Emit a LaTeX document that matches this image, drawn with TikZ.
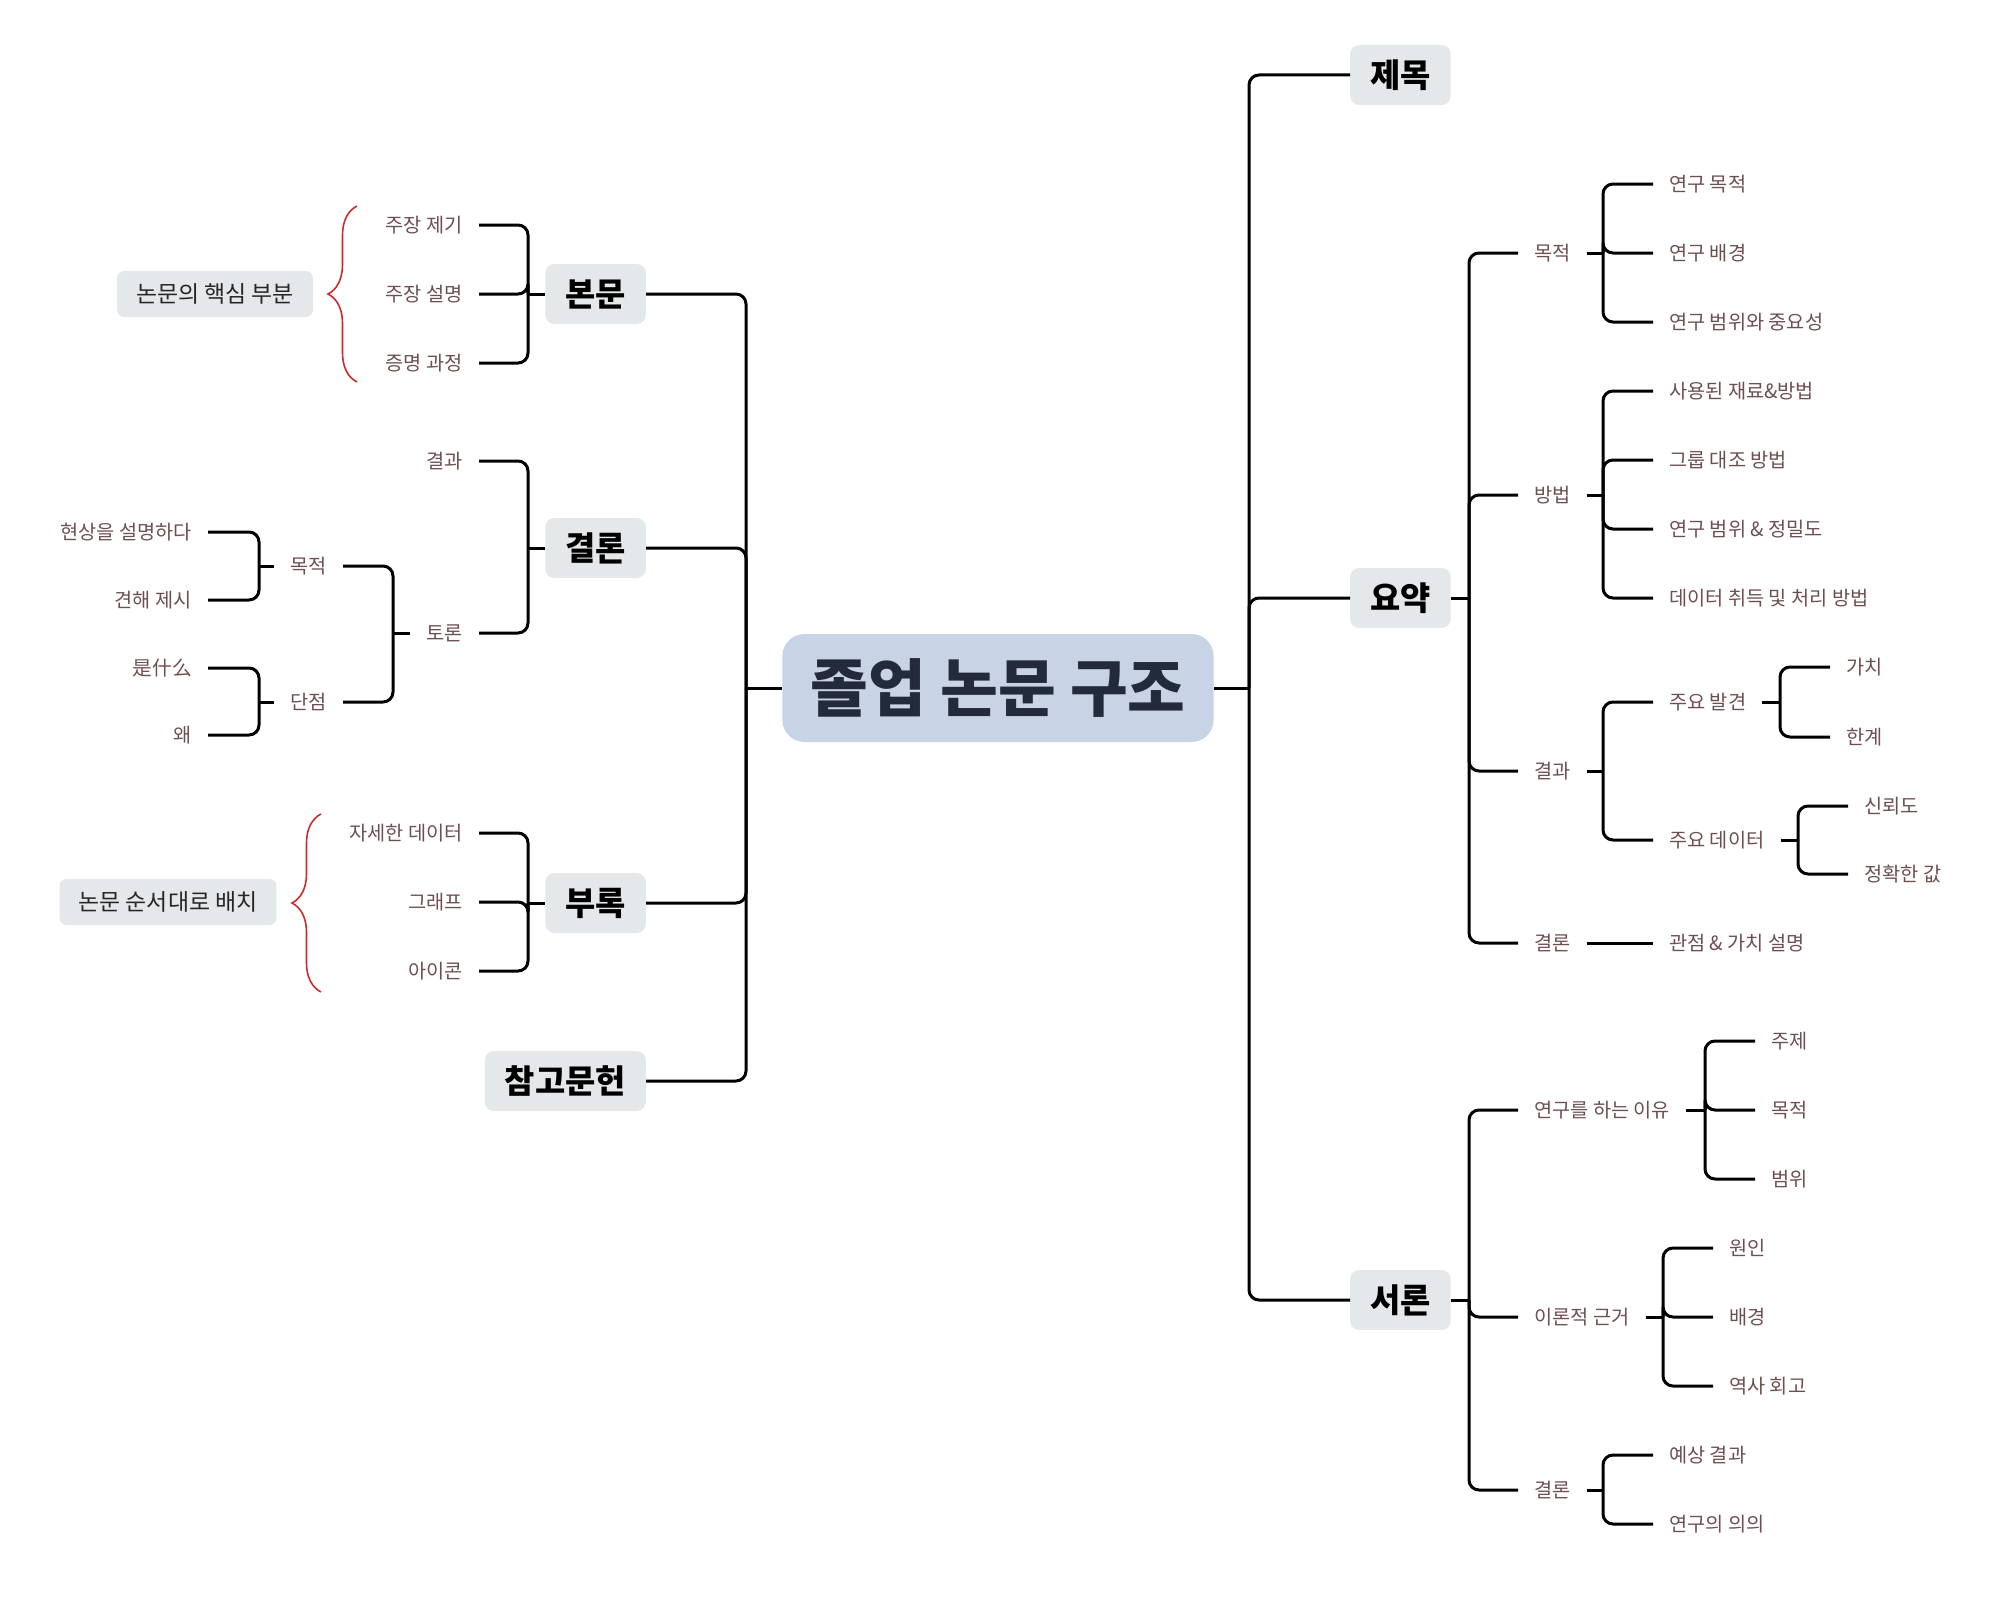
\documentclass[tikz,border=0pt]{standalone}
\usepackage{fontspec}
\setmainfont{Noto Sans CJK KR}
\usetikzlibrary{decorations.pathreplacing}
\definecolor{mainfill}{HTML}{C8D3E5}
\definecolor{maintext}{HTML}{222A3C}
\definecolor{topicfill}{HTML}{E5E8EB}
\definecolor{leaftext}{HTML}{6E4F4F}
\definecolor{bracered}{HTML}{CC2B2B}

\begin{document}
\begin{tikzpicture}[x=1bp, y=-1bp,
  main/.style={fill=mainfill, text=maintext, rounded corners=22bp, minimum height=108bp, inner xsep=28bp, font=\fontsize{63}{66}\selectfont\bfseries},
  topic/.style={fill=topicfill, rounded corners=9bp, minimum height=60bp, inner xsep=20bp, font=\fontsize{33}{35}\selectfont\bfseries},
  note/.style={fill=topicfill, rounded corners=7bp, minimum height=46bp, inner xsep=19bp, text=black!85, font=\fontsize{23}{26}\selectfont},
  leaf/.style={text=leaftext, inner xsep=16bp, inner ysep=3bp, font=\fontsize{19.8}{22}\selectfont},
  link/.style={line width=3bp, rounded corners=10bp},
  bracket/.style={draw=bracered, line width=1.6bp, decorate, decoration={brace, amplitude=29bp}}]
\useasboundingbox (0,0) rectangle (2003,1605);

\node[main] (main) at (998,688) {졸업 논문 구조};

\node[topic, anchor=west] (jemok) at (1350,75) {제목};
\node[topic, anchor=west] (yoyak) at (1350,598) {요약};
\node[topic, anchor=west] (seoron) at (1350,1300) {서론};
\node[topic, anchor=east] (bonmun) at (646,294) {본문};
\node[topic, anchor=east] (gyeolron) at (646,548) {결론};
\node[topic, anchor=east] (burok) at (646,903) {부록};
\node[topic, anchor=east] (chamgo) at (646,1081) {참고문헌};

\node[note] (note1) at (215,294) {논문의 핵심 부분};
\node[note] (note2) at (168,902) {논문 순서대로 배치};

\node[leaf, anchor=west] (yMok) at (1518,253) {목적};
\node[leaf, anchor=west] (yBang) at (1518,495) {방법};
\node[leaf, anchor=west] (yGyeol) at (1518,771) {결과};
\node[leaf, anchor=west] (yGyeolron) at (1518,943) {결론};
\node[leaf, anchor=west] (yMok1) at (1653,184) {연구 목적};
\node[leaf, anchor=west] (yMok2) at (1653,253) {연구 배경};
\node[leaf, anchor=west] (yMok3) at (1653,322) {연구 범위와 중요성};
\node[leaf, anchor=west] (yBang1) at (1653,391) {사용된 재료\&방법};
\node[leaf, anchor=west] (yBang2) at (1653,460) {그룹 대조 방법};
\node[leaf, anchor=west] (yBang3) at (1653,529) {연구 범위 \& 정밀도};
\node[leaf, anchor=west] (yBang4) at (1653,598) {데이터 취득 및 처리 방법};
\node[leaf, anchor=west] (yBal) at (1653,702) {주요 발견};
\node[leaf, anchor=west] (yDat) at (1653,840) {주요 데이터};
\node[leaf, anchor=west] (yBal1) at (1830,667) {가치};
\node[leaf, anchor=west] (yBal2) at (1830,737) {한계};
\node[leaf, anchor=west] (yDat1) at (1848,806) {신뢰도};
\node[leaf, anchor=west] (yDat2) at (1848,874) {정확한 값};
\node[leaf, anchor=west] (yGyeolron1) at (1653,943) {관점 \& 가치 설명};

\node[leaf, anchor=west] (sIyu) at (1518,1110) {연구를 하는 이유};
\node[leaf, anchor=west] (sGeun) at (1518,1317) {이론적 근거};
\node[leaf, anchor=west] (sGyeol) at (1518,1490) {결론};
\node[leaf, anchor=west] (sIyu1) at (1755,1041) {주제};
\node[leaf, anchor=west] (sIyu2) at (1755,1110) {목적};
\node[leaf, anchor=west] (sIyu3) at (1755,1179) {범위};
\node[leaf, anchor=west] (sGeun1) at (1713,1248) {원인};
\node[leaf, anchor=west] (sGeun2) at (1713,1317) {배경};
\node[leaf, anchor=west] (sGeun3) at (1713,1386) {역사 회고};
\node[leaf, anchor=west] (sGyeol1) at (1653,1455) {예상 결과};
\node[leaf, anchor=west] (sGyeol2) at (1653,1524) {연구의 의의};

\node[leaf, anchor=east] (bMain1) at (479,225) {주장 제기};
\node[leaf, anchor=east] (bMain2) at (479,294) {주장 설명};
\node[leaf, anchor=east] (bMain3) at (479,363) {증명 과정};
\node[leaf, anchor=east] (gRes) at (479,461) {결과};
\node[leaf, anchor=east] (gTo) at (479,633) {토론};
\node[leaf, anchor=east] (gMok) at (343,566) {목적};
\node[leaf, anchor=east] (gDan) at (343,702) {단점};
\node[leaf, anchor=east] (gMok1) at (208,532) {현상을 설명하다};
\node[leaf, anchor=east] (gMok2) at (208,600) {견해 제시};
\node[leaf, anchor=east] (gDan1) at (208,668) {是什么};
\node[leaf, anchor=east] (gDan2) at (208,735) {왜};
\node[leaf, anchor=east] (aData) at (479,833) {자세한 데이터};
\node[leaf, anchor=east] (aGraph) at (479,902) {그래프};
\node[leaf, anchor=east] (aIcon) at (479,971) {아이콘};

\coordinate (mainJR) at (1249,688);
\coordinate (mainJL) at (746,688);
\coordinate (yoyakJ) at (1469,598);
\coordinate (yMokJ) at (1603,253);
\coordinate (yBangJ) at (1603,495);
\coordinate (yGyeolJ) at (1603,771);
\coordinate (yBalJ) at (1780,702);
\coordinate (yDatJ) at (1798,840);
\coordinate (seoronJ) at (1469,1300);
\coordinate (sIyuJ) at (1705,1110);
\coordinate (sGeunJ) at (1663,1317);
\coordinate (sGyeolJ) at (1603,1490);
\coordinate (bonmunJ) at (528,294);
\coordinate (gyeolronJ) at (528,548);
\coordinate (gToJ) at (393,633);
\coordinate (gMokJ) at (259,566);
\coordinate (gDanJ) at (259,702);
\coordinate (burokJ) at (528,903);

\draw[link] (main.east) -- (mainJR);
\foreach \c in {jemok,yoyak,seoron} \draw[link] (mainJR) |- (\c.west);
\draw[link] (main.west) -- (mainJL);
\foreach \c in {bonmun,gyeolron,burok,chamgo} \draw[link] (mainJL) |- (\c.east);

\draw[link] (yoyak.east) -- (yoyakJ);
\foreach \c in {yMok,yBang,yGyeol,yGyeolron} \draw[link] (yoyakJ) |- (\c.west);
\draw[link] (yMok.east) -- (yMokJ);
\foreach \c in {yMok1,yMok2,yMok3} \draw[link] (yMokJ) |- (\c.west);
\draw[link] (yBang.east) -- (yBangJ);
\foreach \c in {yBang1,yBang2,yBang3,yBang4} \draw[link] (yBangJ) |- (\c.west);
\draw[link] (yGyeol.east) -- (yGyeolJ);
\foreach \c in {yBal,yDat} \draw[link] (yGyeolJ) |- (\c.west);
\draw[link] (yBal.east) -- (yBalJ);
\foreach \c in {yBal1,yBal2} \draw[link] (yBalJ) |- (\c.west);
\draw[link] (yDat.east) -- (yDatJ);
\foreach \c in {yDat1,yDat2} \draw[link] (yDatJ) |- (\c.west);
\draw[link] (yGyeolron.east) -- (yGyeolron1.west);

\draw[link] (seoron.east) -- (seoronJ);
\foreach \c in {sIyu,sGeun,sGyeol} \draw[link] (seoronJ) |- (\c.west);
\draw[link] (sIyu.east) -- (sIyuJ);
\foreach \c in {sIyu1,sIyu2,sIyu3} \draw[link] (sIyuJ) |- (\c.west);
\draw[link] (sGeun.east) -- (sGeunJ);
\foreach \c in {sGeun1,sGeun2,sGeun3} \draw[link] (sGeunJ) |- (\c.west);
\draw[link] (sGyeol.east) -- (sGyeolJ);
\foreach \c in {sGyeol1,sGyeol2} \draw[link] (sGyeolJ) |- (\c.west);

\draw[link] (bonmun.west) -- (bonmunJ);
\foreach \c in {bMain1,bMain2,bMain3} \draw[link] (bonmunJ) |- (\c.east);
\draw[link] (gyeolron.west) -- (gyeolronJ);
\foreach \c in {gRes,gTo} \draw[link] (gyeolronJ) |- (\c.east);
\draw[link] (gTo.west) -- (gToJ);
\foreach \c in {gMok,gDan} \draw[link] (gToJ) |- (\c.east);
\draw[link] (gMok.west) -- (gMokJ);
\foreach \c in {gMok1,gMok2} \draw[link] (gMokJ) |- (\c.east);
\draw[link] (gDan.west) -- (gDanJ);
\foreach \c in {gDan1,gDan2} \draw[link] (gDanJ) |- (\c.east);
\draw[link] (burok.west) -- (burokJ);
\foreach \c in {aData,aGraph,aIcon} \draw[link] (burokJ) |- (\c.east);

\draw[bracket] (357,382) -- (357,206);
\draw[bracket] (321,992) -- (321,814);
\end{tikzpicture}
\end{document}
